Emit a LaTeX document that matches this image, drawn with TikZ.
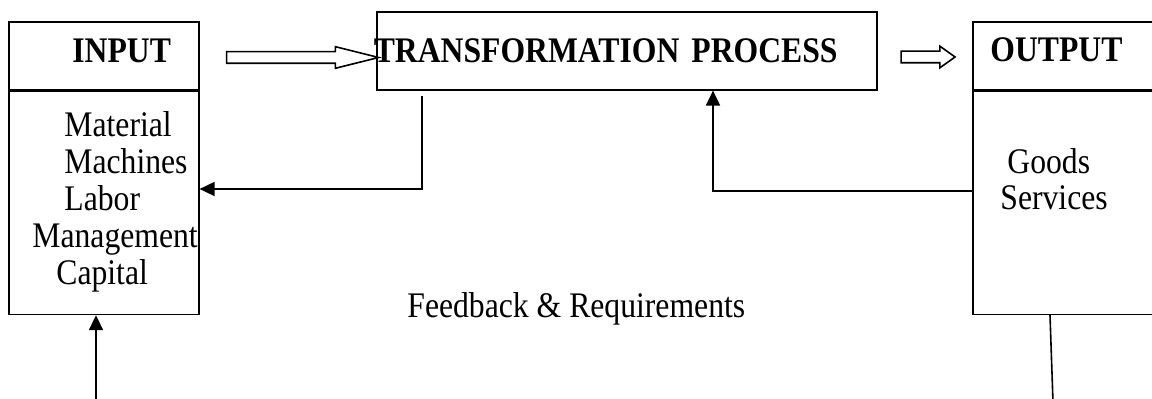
\documentclass[tikz,border=0pt]{standalone}
\usepackage{fontspec}
\setmainfont{Liberation Serif}[FakeStretch=0.88]
\usepackage{tikz}
\usetikzlibrary{arrows.meta}
\usetikzlibrary{positioning}
\usetikzlibrary{shapes.arrows}

\tikzset{
 box/.style={draw, rectangle, line width=0.8pt, inner sep=0pt},
 flow/.style={draw, single arrow, line width=0.8pt, inner sep=0pt, inner ysep=2.5pt,
  single arrow head extend=2.5pt, minimum width=0pt},
 fb/.style={line width=0.9pt, -{Triangle[length=7.5pt,width=7pt]}},
 fbline/.style={line width=0.8pt},
}

\begin{document}
\begin{tikzpicture}[x=0.5pt,y=-0.5pt,font=\fontsize{18}{18.5}\selectfont]
 \path[use as bounding box, clip] (0,0) rectangle (1152,399);
 \begin{scope}[every node/.style={box}]
 \node [anchor=north west, minimum width=95pt, minimum height=34pt] (inhead) at (8,21) {};
 \node [below=0pt of inhead, minimum width=95pt, minimum height=111.5pt] (inbody) {};
 \node [anchor=north west, minimum width=250pt, minimum height=39pt, inner xsep=-1.5pt,
  text width=253pt, align=left] (trans) at (376,11) {\bfseries TRANSFORMATION PROCESS};
 \node [anchor=north west, minimum width=100pt, minimum height=34pt] (outhead) at (972,21) {};
 \node [below=0pt of outhead, minimum width=100pt, minimum height=111.5pt] (outbody) {};
 \end{scope}

 % texts
 \node [anchor=base west, inner sep=0pt] (intxt) at (72,63) {\bfseries INPUT};
 \node [anchor=north west, inner sep=0pt, align=left] (inlist) at (32,111)
  {\hspace*{16pt}Material\\ \hspace*{16pt}Machines\\ \hspace*{16pt}Labor\\ Management\\ \hspace*{12pt}Capital};
 \node [anchor=north west, inner sep=0pt, align=left, font=\fontsize{18}{18}\selectfont] (outlist) at (1000,148)
  {\hspace*{3.5pt}Goods\\ Services};
 \node [anchor=base west, inner sep=0pt] (outtxt) at (990,62) {\bfseries OUTPUT};
 \node [anchor=base west, inner sep=0pt] (fbtxt) at (407,318) {Feedback \& Requirements};

 % block arrows
 \node [flow, minimum height=76pt, single arrow tip angle=28] (inflow) at (291,57.5) {};
 \node [flow, minimum height=27pt, single arrow tip angle=71] (outflow) at (924,57) {};

 % feedback
 \coordinate (fbin) at (96,402);
 \coordinate (fbout) at (1053,402);
 \draw [fb] ([xshift=23pt,yshift=-2.5pt]trans.south west) |- (inbody.east |- 0,189);
 \draw [fb] (outbody.west |- 0,191) -| (trans.south -| 713,0);
 \draw [fb] (fbin) -- (inbody.south -| fbin);
 \draw [fbline] (outbody.south -| 1050,0) -- (fbout);
\end{tikzpicture}
\end{document}
